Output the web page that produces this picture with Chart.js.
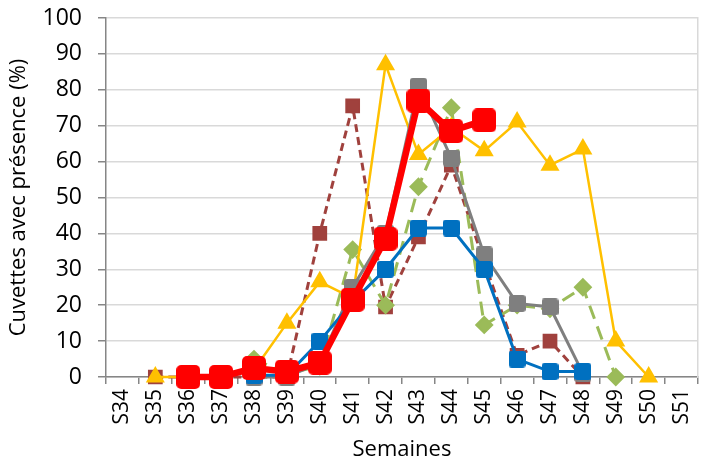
<!DOCTYPE html>
<html>
<head>
<meta charset="utf-8">
<script src="https://cdn.jsdelivr.net/npm/chart.js@4/dist/chart.umd.min.js"></script>
<style>
  html, body { margin: 0; padding: 0; background: #fff; }
  #wrap { width: 709px; height: 463px; }
</style>
</head>
<body>
<div id="wrap"><canvas id="chart"></canvas></div>
<script>
// semaines
const weeks = ['S34', 'S35', 'S36', 'S37', 'S38', 'S39', 'S40', 'S41', 'S42',
  'S43', 'S44', 'S45', 'S46', 'S47', 'S48', 'S49', 'S50', 'S51'];

// % cuvettes avec présence, one array per series (null = no point)
const redSeries    = [null, null, 0, 0, 2.5, 1.5, 4, 21.5, 38.5, 77, 68.5, 71.5, null, null, null, null, null, null];
const blueSeries   = [null, null, null, null, 0.5, 0.5, 10, 21, 30, 41.5, 41.5, 30, 5, 1.5, 1.5, null, null, null];
const greySeries   = [null, null, null, null, 0, 0, 4, 25, 40, 81, 61, 34, 20.5, 19.5, 1, null, null, null];
const yellowSeries = [null, 0, 0, 0, 2, 15, 26.5, 22, 87, 62, 69.5, 63, 71, 59, 63.5, 10, 0, null];
const greenSeries  = [null, null, null, null, 5, 1, 3, 35.5, 20, 53, 75, 14.5, 20, 19, 25, 0, null, null];
const darkRedSeries = [null, 0, 0, 0, 0, 0, 40, 75.5, 19.5, 39, 59, 32, 6, 10, 0, null, null, null];

const yTicks = [0, 10, 20, 30, 40, 50, 60, 70, 80, 90, 100];

Chart.defaults.font.family = '"Open Sans", "Liberation Sans", sans-serif';
Chart.defaults.color = '#000';

// square marker with slightly rounded corners
function roundSquare(size, corner, color) {
  const c = document.createElement('canvas');
  c.width = size;
  c.height = size;
  const g = c.getContext('2d');
  g.fillStyle = color;
  g.beginPath();
  g.roundRect(0, 0, size, size, corner);
  g.fill();
  return c;
}

function series(data, color, opts) {
  return Object.assign({
    data: data,
    borderColor: color,
    backgroundColor: color,
    pointBackgroundColor: color,
    pointBorderColor: color,
    pointBorderWidth: 2,
    borderWidth: 3,
    tension: 0,
    spanGaps: false,
    clip: false
  }, opts);
}

// first dataset is painted on top
const datasets = [
  series(redSeries, '#FF0000', { borderWidth: 6.5, pointStyle: roundSquare(24, 5, '#FF0000') }),
  series(blueSeries, '#0070C0', { pointStyle: roundSquare(17, 3, '#0070C0') }),
  series(greySeries, '#7F7F7F', { pointStyle: roundSquare(17, 3, '#7F7F7F') }),
  series(yellowSeries, '#FFC000', { borderWidth: 2.5, pointStyle: 'triangle', pointRadius: 9 }),
  series(greenSeries, '#9BBB59', { borderDash: [14, 8], pointStyle: 'rectRot', pointRadius: 8 }),
  series(darkRedSeries, '#A0413D', { borderDash: [8, 5], pointStyle: 'rect', pointRadius: 9 })
];

new Chart(document.getElementById('chart'), {
  type: 'line',
  data: { labels: weeks, datasets: datasets },
  options: {
    responsive: true,
    maintainAspectRatio: false,
    animation: false,
    layout: { padding: { top: 18, right: 3, bottom: 0, left: 0 } },
    plugins: {
      legend: { display: false },
      tooltip: { enabled: false }
    },
    scales: {
      x: {
        offset: true,
        grid: {
          offset: true,
          drawOnChartArea: false,
          tickLength: 7,
          color: '#868686',
          lineWidth: 1.5
        },
        border: { color: '#868686', width: 1.5 },
        ticks: {
          minRotation: 90,
          maxRotation: 90,
          autoSkip: false,
          padding: 5,
          font: { size: 21 }
        },
        title: {
          display: true,
          text: 'Semaines',
          font: { size: 22 },
          padding: { top: 0, bottom: 0 }
        },
        afterFit: (scale) => {
          scale.height = 86;
          scale.paddingLeft = 0;
          scale.paddingRight = 0;
        }
      },
      y: {
        min: 0,
        max: 100,
        afterBuildTicks: (scale) => { scale.ticks = yTicks.map(v => ({ value: v })); },
        grid: {
          color: '#D9D9D9',
          lineWidth: 1.5,
          tickColor: '#868686',
          tickLength: 8
        },
        border: { color: '#868686', width: 1.5 },
        ticks: {
          padding: 16,
          font: { size: 23 }
        },
        title: {
          display: true,
          text: 'Cuvettes avec présence (%)',
          font: { size: 22 },
          padding: { top: 6, bottom: 0 }
        },
        afterFit: (scale) => {
          scale.width = 106;
          // labels fit inside the layout padding, no extra room needed
          scale.paddingTop = 12;
          scale.paddingBottom = 12;
        }
      },
      yRight: {
        position: 'right',
        min: 0,
        max: 100,
        grid: { display: false },
        ticks: { display: false },
        border: { color: '#D9D9D9', width: 1.5 },
        afterFit: (scale) => { scale.width = 0; }
      }
    }
  }
});
</script>
</body>
</html>
